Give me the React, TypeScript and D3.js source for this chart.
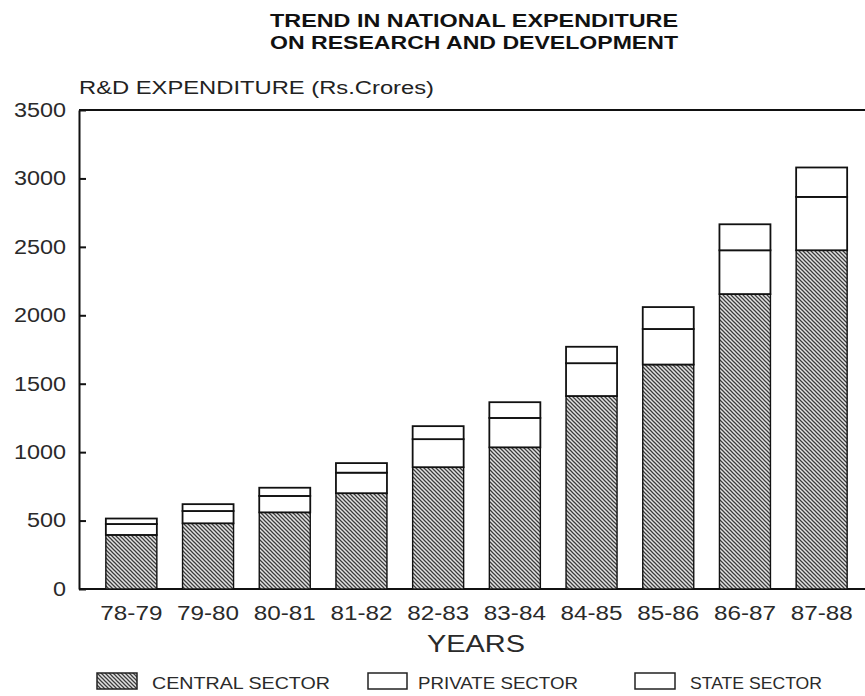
import React, { useEffect, useRef } from "react";
import * as d3 from "d3";

const years = ["78-79", "79-80", "80-81", "81-82", "82-83", "83-84", "84-85", "85-86", "86-87", "87-88"];
const centralSector = [395, 480, 560, 700, 890, 1035, 1410, 1640, 2155, 2475];
const privateSector = [80, 90, 120, 150, 205, 215, 240, 260, 320, 390];
const stateSector = [40, 50, 60, 70, 95, 115, 120, 160, 190, 215];
const yTicks = [0, 500, 1000, 1500, 2000, 2500, 3000, 3500];
const seriesKeys = ["central", "private", "state"];
const seriesNames = ["CENTRAL SECTOR", "PRIVATE SECTOR", "STATE SECTOR"];
const titleLines = ["TREND IN NATIONAL EXPENDITURE", "ON RESEARCH AND DEVELOPMENT"];
const yAxisTitle = "R&D EXPENDITURE (Rs.Crores)";
const xAxisTitle = "YEARS";

const W = 865;
const H = 696;
const FONT = "'Liberation Sans', Arial, Helvetica, sans-serif";

export default function App() {
  const yAxisRef = useRef<SVGGElement>(null);
  const xAxisRef = useRef<SVGGElement>(null);

  const x = d3.scaleBand<string>().domain(years).range([93, 860]).paddingInner(0.335).paddingOuter(0.1675);
  const y = d3.scaleLinear().domain([0, 3500]).range([589, 110]);

  const rows = years.map((yr, i) => ({
    year: yr,
    central: centralSector[i],
    private: privateSector[i],
    state: stateSector[i],
  }));
  const stacked = d3.stack<any>().keys(seriesKeys)(rows);
  const fills = ["url(#hatch)", "#ffffff", "#ffffff"];

  useEffect(() => {
    if (yAxisRef.current) {
      const g = d3.select(yAxisRef.current);
      g.selectAll("*").remove();
      g.call(d3.axisLeft(y).tickValues(yTicks).tickSize(-7).tickSizeOuter(0).tickPadding(13).tickFormat(d3.format("d")) as any);
      g.select(".domain").attr("stroke", "#111").attr("stroke-width", 2);
      g.selectAll(".tick line").attr("stroke", "#111").attr("stroke-width", 2);
      g.selectAll(".tick text")
        .attr("font-family", FONT)
        .attr("font-size", 20)
        .attr("fill", "#2a2a2a")
        .attr("textLength", (d: any) => String(d).length * 13)
        .attr("lengthAdjust", "spacingAndGlyphs");
    }
    if (xAxisRef.current) {
      const g = d3.select(xAxisRef.current);
      g.selectAll("*").remove();
      g.call(d3.axisBottom(x).tickSize(0).tickPadding(17) as any);
      g.select(".domain").remove();
      g.selectAll(".tick text")
        .attr("font-family", FONT)
        .attr("font-size", 20)
        .attr("fill", "#2a2a2a")
        .attr("textLength", 62)
        .attr("lengthAdjust", "spacingAndGlyphs");
    }
  });

  const legendItems = [
    { box: [97, 137], text: 152, len: 178 },
    { box: [368, 407], text: 418, len: 160 },
    { box: [635, 675], text: 690, len: 132 },
  ];

  return (
    <svg
      width={W}
      height={H}
      viewBox={`0 0 ${W} ${H}`}
      style={{ position: "absolute", left: 0, top: 0, background: "#fff" }}
    >
      <defs>
        <pattern id="hatch" patternUnits="userSpaceOnUse" width="4" height="4">
          <rect width="4" height="4" fill="#e2e2e2" />
          <path d="M-1,-1 L5,5 M-1,3 L1,5 M3,-1 L5,1" stroke="#3c3c3c" strokeWidth="1.25" />
        </pattern>
      </defs>

      {/* Title */}
      {titleLines.map((t, i) => (
        <text
          key={t}
          x={474}
          y={27 + i * 22}
          textAnchor="middle"
          fontFamily={FONT}
          fontWeight="bold"
          fontSize={19}
          fill="#111"
          textLength={408}
          lengthAdjust="spacingAndGlyphs"
        >
          {t}
        </text>
      ))}

      {/* Y axis title */}
      <text
        x={79}
        y={94}
        fontFamily={FONT}
        fontSize={18}
        fill="#222"
        textLength={355}
        lengthAdjust="spacingAndGlyphs"
      >
        {yAxisTitle}
      </text>

      {/* Frame: top line and baseline */}
      <line x1={79} x2={W} y1={y(3500)} y2={y(3500)} stroke="#111" strokeWidth={2} />
      <line x1={79} x2={W} y1={y(0)} y2={y(0)} stroke="#111" strokeWidth={2} />

      {/* Bars */}
      {stacked.map((layer, li) => (
        <g key={layer.key}>
          {layer.map((d: any, i: number) => (
            <rect
              key={years[i]}
              x={x(years[i])}
              y={y(d[1])}
              width={x.bandwidth()}
              height={y(d[0]) - y(d[1])}
              fill={fills[li]}
              stroke="#111"
              strokeWidth={li === 0 ? 1.4 : 1.8}
            />
          ))}
        </g>
      ))}

      <g ref={yAxisRef} transform={`translate(79,0)`} />
      <g ref={xAxisRef} transform={`translate(0,${y(0)})`} />

      {/* X axis title */}
      <text
        x={476}
        y={652}
        textAnchor="middle"
        fontFamily={FONT}
        fontSize={23}
        fill="#2a2a2a"
        textLength={98}
        lengthAdjust="spacingAndGlyphs"
      >
        {xAxisTitle}
      </text>

      {/* Legend */}
      {legendItems.map((it, i) => (
        <g key={seriesNames[i]}>
          <rect
            x={it.box[0]}
            y={673}
            width={it.box[1] - it.box[0]}
            height={16}
            fill={fills[i]}
            stroke="#222"
            strokeWidth={1.5}
          />
          <text
            x={it.text}
            y={689}
            fontFamily={FONT}
            fontSize={17}
            fill="#2a2a2a"
            textLength={it.len}
            lengthAdjust="spacingAndGlyphs"
          >
            {seriesNames[i]}
          </text>
        </g>
      ))}
    </svg>
  );
}
